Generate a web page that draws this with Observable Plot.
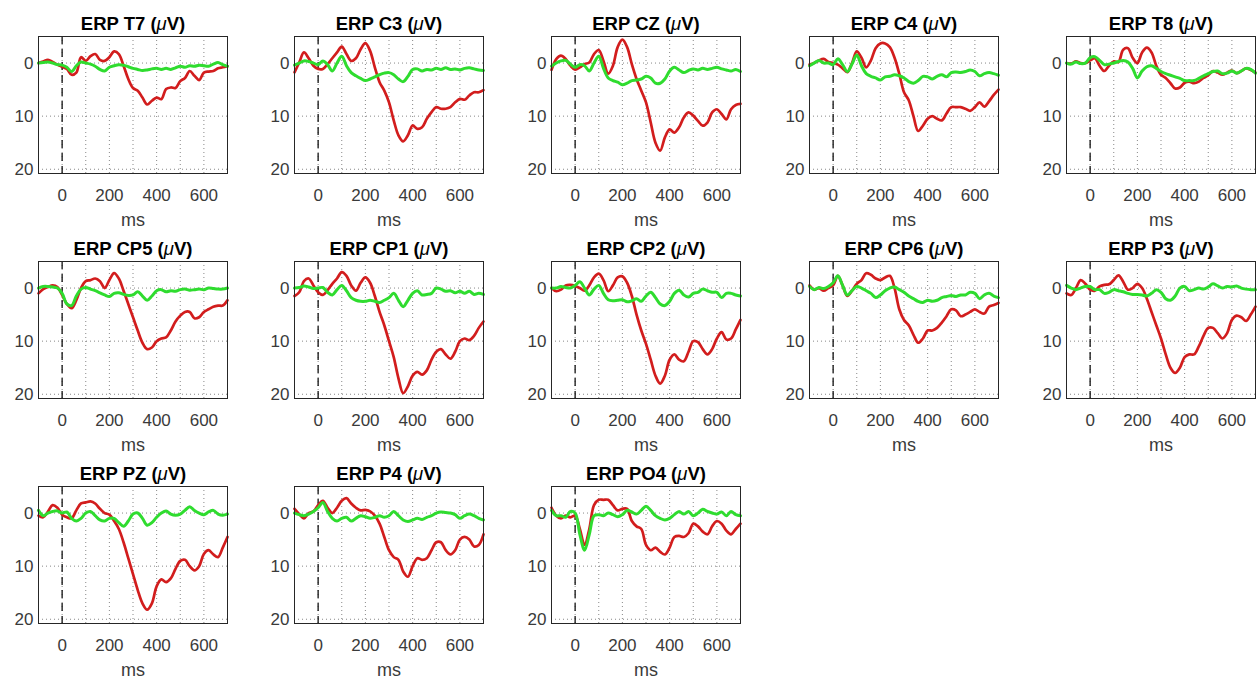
<!DOCTYPE html>
<html><head><meta charset="utf-8">
<script src="https://cdn.jsdelivr.net/npm/d3@7"></script>
<script src="https://cdn.jsdelivr.net/npm/@observablehq/plot@0.6"></script>
<style>
html,body{margin:0;padding:0;background:#fff;overflow:hidden}
#chart{position:relative;width:1258px;height:684px;overflow:hidden;background:#fff}
.panel{position:absolute;width:257px;height:225px;overflow:visible}
.panel svg{max-width:none !important;overflow:visible}
</style></head><body>
<div id="chart"></div>
<script>
const times = [-100,-80,-60,-40,-20,0,20,40,60,80,100,120,140,160,180,200,220,240,260,280,300,320,340,360,380,400,420,440,460,480,500,520,540,560,580,600,620,640,660,680,700];
const channels = ["T7","C3","CZ","C4","T8","CP5","CP1","CP2","CP6","P3","PZ","P4","PO4"];
const xTickLabels = [0,200,400,600];
const xGridTicks = [0,100,200,300,400,500,600];
const yTickLabels = [0,10,20];

const redT7 = [0,-0.3,-0.6,-0.2,0.3,0.7,1.1,2.2,1.8,-1.1,-0.4,-1.3,-1.7,-0.6,-0.4,-1.1,-2.2,-1.7,0.5,3.0,4.7,5.2,6.5,7.8,7.1,6.5,6.8,4.9,4.6,4.7,3.4,2.8,1.5,2.4,3.2,1.8,1.6,1.5,1.0,0.8,0.6];
const greenT7 = [0,-0.1,-0.2,0,0.3,0.4,0.8,1.6,0.5,-0.2,0.0,0.2,0.6,1.2,1.5,0.8,0.5,0.3,0.4,0.7,1.0,1.2,1.4,1.3,1.1,1.0,1.2,1.0,1.2,0.9,0.6,0.8,0.5,0.6,0.4,0.5,0.6,0.2,-0.1,0.3,0.6];
const redC3 = [1.75,-0.1,-2,-0.9,0.5,1.1,1.1,0.2,-0.9,-2,-3.1,-1.7,-0.4,-0.9,-2.6,-3.75,-2.3,0.8,3.6,5.2,7.4,10.8,13.6,14.75,13.6,11.75,12.4,12.1,10.5,9.25,8.3,8.6,8.6,8.3,7.4,6.75,6.9,6.1,5.5,5.5,5.1];
const greenC3 = [0.4,0.0,-0.4,-0.3,0.0,0.3,-0.4,0.3,1.5,0.0,-1.3,0.5,1.8,2.4,2.9,3.3,3.0,2.6,2.2,1.9,1.8,2.2,3.0,3.5,2.5,1.2,1.1,1.5,1.2,1.3,1.0,1.2,0.9,1.2,1.1,1.3,1.0,0.9,1.1,1.3,1.4];
const redCZ = [1.3,-0.75,-1.4,-0.75,0.5,1.25,0.8,0.2,-0.1,-1.7,-2.45,-0.4,2.0,0.5,-3.0,-4.4,-3.0,0.2,3.0,5.2,7.4,11.2,15.0,16.5,14.0,12.5,13.1,12.1,10.25,9.3,9.9,10.9,11.8,11.2,9.3,8.7,9.6,10.6,8.7,7.9,7.7];
const greenCZ = [0.6,0.0,-0.4,-0.5,0.2,0.8,0.3,0.5,1.5,0.0,-1.3,1.0,2.8,3.3,3.6,4.1,3.8,3.3,3.2,3.0,2.5,2.8,3.8,3.8,3.0,1.5,0.8,1.3,1.8,1.4,1.1,1.3,1.0,1.2,1.0,0.8,1.1,1.3,1.5,1.2,1.6];
const redC4 = [0.3,0.0,-0.5,-0.8,-0.2,0.0,0.3,1.0,1.7,0.0,-2.2,-1.0,0.8,-0.5,-2.8,-3.7,-3.7,-3.0,-1.0,2.0,5.5,7.0,10.0,12.8,11.8,10.5,10.0,10.5,10.8,9.5,8.3,8.3,8.3,8.6,9.0,8.3,7.4,8.2,7.2,6.0,5.0];
const greenC4 = [0.5,0.0,-0.5,0.0,0.0,0.3,-0.8,0.3,1.6,0.2,-1.5,0.5,2.0,2.5,2.8,3.2,2.6,2.5,2.2,2.4,2.8,3.5,3.8,3.3,2.5,2.6,3.0,2.5,2.2,2.6,1.8,1.7,1.8,1.6,1.3,1.6,2.4,2.0,1.8,2.0,2.3];
const redT8 = [0.0,0.1,-0.3,0.0,0.0,-0.5,-0.9,0.5,1.5,0.5,-0.3,-0.2,-2.5,-2.8,-1.0,0.0,-2.0,-2.9,-2.0,0.5,2.2,2.8,3.8,4.8,4.6,3.7,3.5,3.8,3.5,2.8,2.3,1.5,1.8,2.2,1.8,1.4,1.9,1.5,1.0,1.3,1.8];
const greenT8 = [0.0,0.2,-0.2,0.1,0.0,-1.0,-1.2,-0.5,0.3,0.2,0.0,-0.3,-0.5,-0.2,1.0,2.8,1.5,0.7,0.5,1.0,1.6,2.0,2.3,2.6,2.9,3.3,3.3,3.3,2.9,2.4,2.0,1.6,1.5,2.0,1.9,1.5,1.9,1.5,1.0,1.2,1.9];
const redCP5 = [1.0,0.2,-0.2,-0.5,-0.2,1.3,3.0,3.8,2.3,0.0,-1.3,-1.5,-1.8,-1.3,0.0,-1.5,-2.8,-1.8,0.5,3.0,5.5,8.0,10.3,11.5,11.2,10.0,9.5,9.3,8.0,6.3,5.2,4.5,4.5,5.7,5.5,4.5,4.0,3.5,3.3,3.3,2.3];
const greenCP5 = [0.0,-0.3,-0.3,-0.2,0.0,1.0,3.0,3.3,1.5,0.2,-0.1,0.2,0.5,0.9,1.3,1.6,1.0,0.9,1.2,1.4,1.3,0.7,1.5,2.3,1.5,0.5,0.3,0.7,0.5,0.6,0.3,0.2,0.4,0.3,0.2,0.3,0.0,0.1,0.2,0.2,0.0];
const redCP1 = [1.5,0.8,-1.3,-1.8,-0.5,0.8,1.3,0.4,-0.8,-1.8,-3.0,-2.3,-0.5,0.5,-1.0,-2.0,-1.0,1.5,4.5,7.0,10.0,13.0,17.0,19.8,18.5,16.5,15.8,16.3,15.5,13.5,12.0,11.5,12.5,13.3,12.0,10.0,9.5,9.8,9.0,7.5,6.3];
const greenCP1 = [0.0,-0.1,-0.4,-0.2,0.1,0.0,-0.1,0.8,1.3,0.3,-0.5,0.5,1.8,2.3,2.5,2.5,2.3,2.5,2.7,2.3,1.8,1.0,2.3,3.5,2.3,1.0,0.5,1.3,1.2,1.0,0.0,0.2,0.6,0.5,0.9,0.6,1.0,0.6,1.2,1.0,1.2];
const redCP2 = [0.0,0.6,0.3,-0.5,-0.6,-0.4,0.0,0.5,-0.5,-2.0,-2.7,-1.5,0.6,-0.5,-2.0,-2.2,-1.0,1.5,5.0,8.0,10.5,13.5,16.5,18.0,16.5,13.5,12.5,13.5,13.8,12.0,10.0,10.2,11.5,12.5,11.5,9.5,8.3,9.7,9.5,7.8,6.0];
const greenCP2 = [0.0,0.0,-0.3,-0.1,0.0,-0.5,-1.2,0.0,1.3,0.2,-0.5,1.0,2.2,2.4,2.3,2.2,2.6,2.4,2.0,2.5,1.5,0.8,1.8,3.0,3.3,2.5,1.0,0.4,1.3,1.7,1.0,0.8,0.2,0.5,0.8,0.8,1.8,1.0,1.0,1.3,1.5];
const redCP6 = [-0.5,0.3,0.0,0.5,0.0,-0.5,-2.3,-0.5,1.5,0.5,-0.8,-1.5,-2.8,-2.5,-1.8,-1.5,-2.0,-2.3,0.0,4.0,6.0,7.0,8.8,10.3,9.5,8.0,8.0,7.5,6.5,5.3,4.0,4.2,5.3,5.0,4.5,4.0,4.5,4.8,3.5,3.2,2.8];
const greenCP6 = [-0.3,0.3,-0.1,0.1,-0.3,-1.0,-2.3,-0.5,1.3,0.5,-0.3,0.0,0.5,1.0,1.8,1.3,0.5,0.0,-0.2,0.3,0.8,1.5,2.0,2.5,2.7,2.3,2.5,2.3,1.8,1.6,1.4,1.6,1.3,1.3,0.8,1.0,2.0,1.3,1.0,1.5,1.8];
const redP3 = [1.0,1.3,0.0,-1.5,-0.8,0.3,0.5,-0.3,-0.6,-0.7,-1.5,-2.4,-1.2,0.3,0.0,-0.8,0.0,2.0,4.5,7.0,9.5,12.5,15.0,16.0,15.0,13.0,12.5,12.5,11.0,9.0,7.5,7.5,8.5,9.5,8.5,6.0,5.2,5.5,6.2,5.0,3.5];
const greenP3 = [-0.5,0.0,0.3,0.0,-0.3,-0.3,0.3,0.3,1.0,0.8,0.3,0.5,0.7,1.0,1.2,1.2,1.3,1.5,1.0,0.3,0.8,2.0,2.3,1.5,0.0,-0.3,0.5,0.3,0.0,0.2,-0.2,-0.8,-0.4,0.0,-0.3,-0.2,-0.4,0.0,0.2,0.3,0.3];
const redPZ = [0.5,0.8,-0.3,-1.5,-1.0,0.3,0.8,1.0,-0.5,-1.8,-2.0,-2.2,-1.8,-0.8,0.0,0.3,1.5,3.0,5.5,8.5,11.5,14.5,17.0,18.2,17.0,13.8,12.5,13.0,12.3,10.5,9.0,8.8,10.0,10.8,10.0,7.7,7.0,7.8,8.3,6.5,4.5];
const greenPZ = [-0.5,0.5,0.0,-0.3,-0.4,0.0,-0.2,1.0,1.5,1.0,0.0,-0.3,0.5,1.3,1.5,1.0,1.0,1.8,2.5,1.5,0.2,0.0,1.0,2.3,1.8,0.8,0.0,-0.4,0.2,0.4,0.2,-0.5,-1.2,-0.5,0.0,0.3,-0.2,-0.5,0.2,0.4,0.2];
const redP4 = [-0.8,0.2,1.0,0.0,-0.3,-1.5,-2.3,-1.0,0.0,-1.0,-2.3,-2.8,-1.8,-1.0,-0.5,-0.6,-0.3,0.5,2.0,4.5,7.0,8.3,8.8,11.0,12.0,10.0,8.5,8.8,8.5,7.0,5.5,5.5,7.0,7.8,7.0,5.0,4.5,5.0,6.3,6.0,4.0];
const greenP4 = [0.0,0.3,0.5,0.2,-0.3,-1.0,-2.0,-0.3,1.0,1.5,1.0,0.8,1.5,1.0,0.5,0.7,1.0,0.8,0.5,0.8,0.5,-0.3,0.5,1.3,1.6,1.3,1.0,1.2,0.8,0.5,0.0,-0.2,-0.1,0.0,0.3,1.0,0.5,0.2,0.5,1.0,1.3];
const redPO4 = [-1.0,0.5,1.0,0.5,0.8,0.5,3.0,6.0,3.0,-1.5,-2.5,-2.5,-2.5,-1.5,-0.5,-0.8,-0.8,1.5,2.5,3.0,6.0,7.0,6.5,7.3,7.8,6.5,4.5,4.3,4.5,3.8,2.0,2.5,3.5,4.0,2.5,1.5,2.0,3.3,4.0,3.0,2.0];
const greenPO4 = [-0.5,0.5,0.5,0.8,-0.3,0.0,4.0,7.0,4.0,0.5,0.3,0.5,0.0,0.3,0.7,0.3,-0.5,-0.2,0.2,-0.5,-1.3,-0.5,0.5,1.0,1.3,1.0,0.3,-0.3,0.2,-0.3,0.5,0.0,-0.7,-0.3,0.0,0.2,-0.2,0.5,-0.3,0.3,0.5];

const seriesByChannel = {
  T7:[redT7,greenT7], C3:[redC3,greenC3], CZ:[redCZ,greenCZ], C4:[redC4,greenC4], T8:[redT8,greenT8],
  CP5:[redCP5,greenCP5], CP1:[redCP1,greenCP1], CP2:[redCP2,greenCP2], CP6:[redCP6,greenCP6], P3:[redP3,greenP3],
  PZ:[redPZ,greenPZ], P4:[redP4,greenP4], PO4:[redPO4,greenPO4]
};

const FONT = "'Liberation Sans', Arial, Helvetica, sans-serif";
const colLeft = [0, 256, 513, 771, 1028];
const rowTop = [0, 225, 450];
const root = document.getElementById("chart");

channels.forEach((ch, i) => {
  const [r, g] = seriesByChannel[ch];
  const data = times.map((t, k) => ({t, red: r[k], green: g[k]}));
  const title = `ERP ${ch} (μV)`;
  const svg = Plot.plot({
    width: 257, height: 225,
    marginLeft: 38, marginTop: 36, marginRight: 30, marginBottom: 52,
    style: {fontFamily: FONT, fontSize: "17px", color: "#333", background: "transparent", overflow: "visible", maxWidth: "none"},
    x: {domain: [-100, 700]},
    y: {domain: [-5, 20.8], reverse: true},
    marks: [
      Plot.gridX(xGridTicks, {stroke: "#262626", strokeOpacity: 0.55, strokeDasharray: "1,3"}),
      Plot.gridY(yTickLabels, {stroke: "#262626", strokeOpacity: 0.55, strokeDasharray: "1,3"}),
      Plot.ruleX([0], {stroke: "#111", strokeWidth: 1.3, strokeDasharray: "8,5"}),
      Plot.line(data, {x: "t", y: "red", stroke: "#d21d1d", strokeWidth: 2.7, curve: "catmull-rom"}),
      Plot.line(data, {x: "t", y: "green", stroke: "#2fdc2f", strokeWidth: 3, curve: "catmull-rom"}),
      Plot.frame({stroke: "#262626", strokeWidth: 1}),
      Plot.axisX(xTickLabels, {tickSize: 0, tickPadding: 15, fontSize: 17, label: null, fill: "#3a3a3a"}),
      Plot.axisY(yTickLabels, {tickSize: 0, tickPadding: 5, fontSize: 17, label: null, fill: "#3a3a3a"}),
      Plot.text([title], {frameAnchor: "top", dy: -7, lineAnchor: "bottom", fontWeight: "bold", fontSize: 18.5, fill: "#000"}),
      Plot.text(["ms"], {frameAnchor: "bottom", dy: 47, lineAnchor: "middle", fontSize: 18, fill: "#3a3a3a"})
    ]
  });
  svg.style.maxWidth = "none";
  svg.style.background = "transparent";
  svg.style.overflow = "visible";
  d3.select(svg).selectAll("text").filter(function() { return this.textContent === title; }).each(function() {
    const t = d3.select(this);
    t.text(null);
    t.append("tspan").text(`ERP ${ch} (`);
    t.append("tspan").attr("font-style", "italic").attr("font-weight", "normal").text("μ");
    t.append("tspan").text("V)");
  });
  const div = document.createElement("div");
  div.className = "panel";
  div.style.left = colLeft[i % 5] + "px";
  div.style.top = rowTop[Math.floor(i / 5)] + "px";
  div.appendChild(svg);
  root.appendChild(div);
});
</script>
</body></html>
